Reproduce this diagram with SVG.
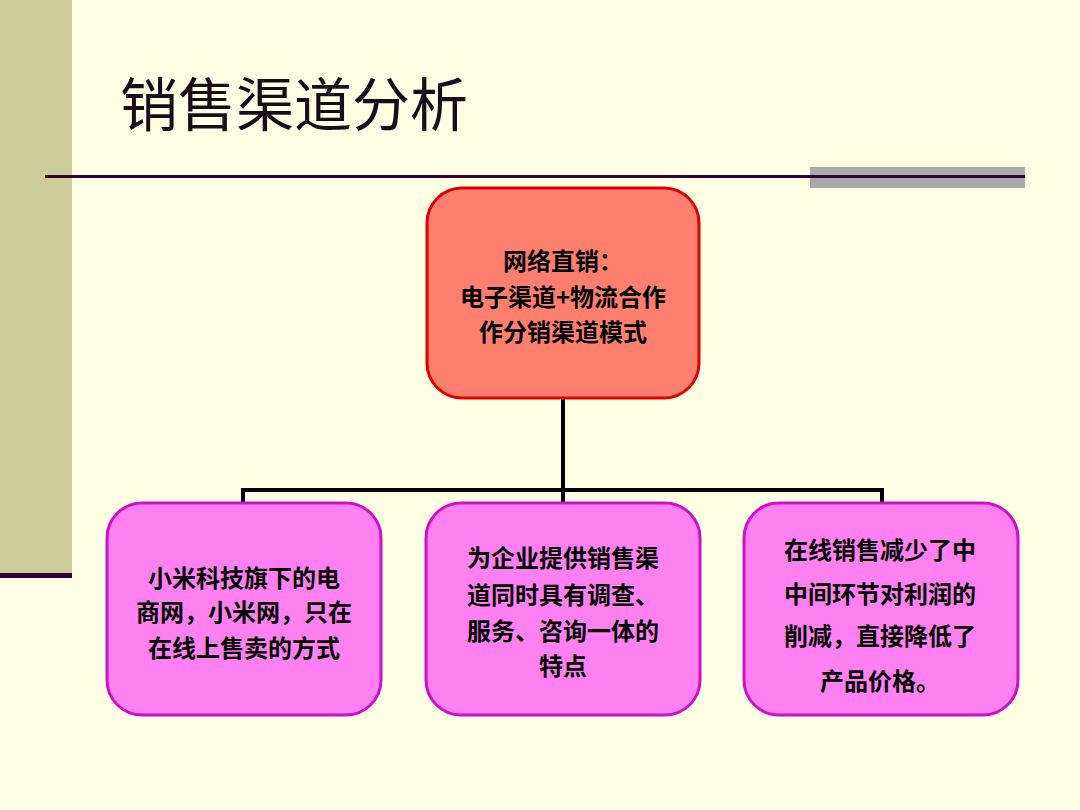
<svg xmlns="http://www.w3.org/2000/svg" width="1080" height="810" viewBox="0 0 1080 810">
<style>
.t{font-family:"Noto Sans CJK SC","Liberation Sans",sans-serif;font-weight:bold;font-size:24px;fill:#000;text-anchor:middle}
.b{fill:#FF80F0;stroke:#D010C8;stroke-width:3}
</style>
<rect width="1080" height="810" fill="#FFFFE3"/>
<rect x="0" y="0" width="72" height="574" fill="#CCCC99"/>
<rect x="0" y="573" width="72" height="5" fill="#330033"/>
<text x="120" y="126" font-family="Noto Sans CJK SC,sans-serif" font-size="58" fill="#1a0a1a">销售渠道分析</text>
<rect x="810" y="167" width="215" height="21" fill="#AAAAAA"/>
<rect x="45" y="175" width="980" height="3" fill="#330033"/>
<g id="connectors" stroke="#000" stroke-width="4" fill="none">
<path d="M563 398V490M243 490H882M243 488V505M563 488V505M882 488V505"/>
</g>
<g id="top"><rect x="427" y="188" width="272" height="210" rx="35" fill="#FF7F6F" stroke="#E00000" stroke-width="3"/>
<text class="t" x="563" y="270">网络直销：</text><text class="t" x="563" y="306">电子渠道+物流合作</text><text class="t" x="563" y="341">作分销渠道模式</text></g>
<g id="n1"><rect class="b" x="107" y="503" width="274" height="212" rx="35"/>
<text class="t" x="244" y="587">小米科技旗下的电</text><text class="t" x="244" y="621">商网，小米网，只在</text><text class="t" x="244" y="657">在线上售卖的方式</text></g>
<g id="n2"><rect class="b" x="426" y="503" width="274" height="212" rx="35"/>
<text class="t" x="563" y="567">为企业提供销售渠</text><text class="t" x="563" y="604">道同时具有调查、</text><text class="t" x="563" y="640">服务、咨询一体的</text><text class="t" x="563" y="675">特点</text></g>
<g id="n3"><rect class="b" x="744" y="503" width="274" height="212" rx="35"/>
<text class="t" x="880" y="559">在线销售减少了中</text><text class="t" x="880" y="603">中间环节对利润的</text><text class="t" x="880" y="645">削减，直接降低了</text><text class="t" x="880" y="690">产品价格。</text></g>
</svg>
